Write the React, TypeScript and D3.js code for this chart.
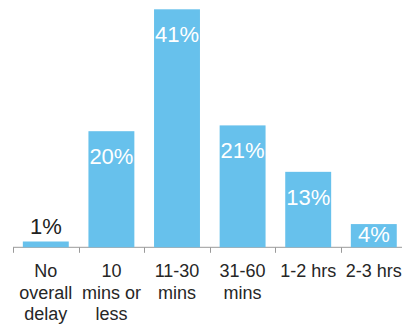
import React, { useRef, useEffect } from 'react';
import * as d3 from 'd3';

const categories = ['No overall delay', '10 mins or less', '11-30 mins', '31-60 mins', '1-2 hrs', '2-3 hrs'];
const labelLines = [
  ['No', 'overall', 'delay'],
  ['10', 'mins or', 'less'],
  ['11-30', 'mins'],
  ['31-60', 'mins'],
  ['1-2 hrs'],
  ['2-3 hrs'],
];
const values = [1, 20, 41, 21, 13, 4];

const W = 402;
const H = 325;
const FONT = '"Liberation Sans", Arial, sans-serif';

function App() {
  const ref = useRef<SVGSVGElement>(null);

  useEffect(() => {
    const svg = d3.select(ref.current);
    svg.selectAll('*').remove();

    const x = d3.scaleBand<string>()
      .domain(categories)
      .range([13, 406.6])
      .paddingInner(0.3)
      .paddingOuter(0.15);

    const y = d3.scaleLinear()
      .domain([0, 41])
      .range([247.3, 9.3]);

    const base = y(0);

    // axis line + ticks at band boundaries
    svg.append('line')
      .attr('x1', 13).attr('x2', W)
      .attr('y1', base).attr('y2', base)
      .attr('stroke', '#9a9a9a').attr('stroke-width', 1);

    categories.forEach(c => {
      const tx = Math.round(x(c)! - x.step() * x.paddingInner() / 2) + 0.5;
      svg.append('line')
        .attr('x1', tx).attr('x2', tx)
        .attr('y1', base).attr('y2', base + 5.5)
        .attr('stroke', '#9a9a9a').attr('stroke-width', 1);
    });

    svg.selectAll('rect.bar')
      .data(values)
      .enter().append('rect')
      .attr('class', 'bar')
      .attr('x', (d, i) => x(categories[i])!)
      .attr('width', x.bandwidth())
      .attr('y', d => y(d))
      .attr('height', d => base - y(d))
      .attr('fill', '#67C1EC');

    svg.selectAll('text.val')
      .data(values)
      .enter().append('text')
      .attr('class', 'val')
      .attr('x', (d, i) => x(categories[i])! + x.bandwidth() / 2)
      .attr('y', d => {
        const h = base - y(d);
        if (h < 10) return y(d) - 7;
        return Math.min(y(d) + 33, base - 5.5);
      })
      .attr('text-anchor', 'middle')
      .attr('font-family', FONT)
      .attr('font-size', 22)
      .attr('fill', d => (base - y(d) < 10 ? '#222' : '#fff'))
      .text(d => `${d}%`);

    labelLines.forEach((lines, i) => {
      const cx = x(categories[i])! + x.bandwidth() / 2;
      const t = svg.append('text')
        .attr('text-anchor', 'middle')
        .attr('font-family', FONT)
        .attr('font-size', 18)
        .attr('fill', '#262626');
      lines.forEach((ln, j) => {
        t.append('tspan')
          .attr('x', cx)
          .attr('y', 277 + j * 21.5)
          .text(ln);
      });
    });
  }, []);

  return (
    <svg ref={ref} width={W} height={H} style={{ position: 'absolute', left: 0, top: 0 }} />
  );
}

export default App;
